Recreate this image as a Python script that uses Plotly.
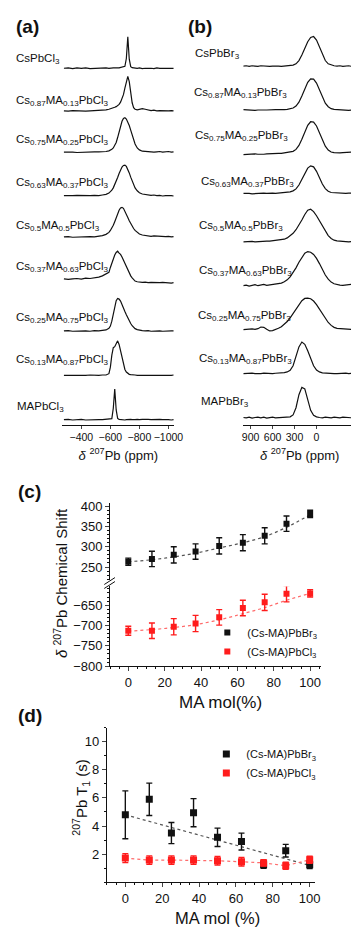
import plotly.graph_objects as go

# ─── (a) 207Pb spectra, Cs(1-x)MA(x)PbCl3 ─────────────────────────────────────
X_CL = [-280, -310, -340, -370, -400, -430, -460, -490, -520, -545,
        -570, -590, -600, -610, -620, -630, -640, -650, -660, -670,
        -680, -690, -700, -710, -720, -730, -740, -750, -760, -770,
        -785, -800, -820, -840, -860, -880, -900, -920, -940, -960,
        -980, -1000, -1020, -1035]

CL_CS = [0.00, 0.01, -0.01, 0.01, 0.00, 0.01, -0.01, 0.00, 0.01, 0.00,
         0.01, 0.00, 0.01, 0.00, 0.01, 0.01, 0.00, 0.01, 0.01, 0.02,
         0.02, 0.03, 0.06, 0.30, 0.97, 0.28, 0.05, 0.02, 0.01, 0.01,
         0.00, 0.01, -0.01, 0.00, 0.01, 0.00, -0.01, 0.01, 0.00, 0.00,
         0.01, 0.00, -0.01, 0.00]
CL_087 = [0.00, -0.01, 0.01, 0.00, 0.01, -0.01, 0.00, 0.01, 0.00, 0.02,
          0.03, 0.05, 0.06, 0.08, 0.09, 0.11, 0.13, 0.16, 0.20, 0.27,
          0.36, 0.50, 0.70, 0.92, 1.06, 0.90, 0.55, 0.25, 0.10, 0.05,
          0.03, 0.04, 0.07, 0.05, 0.02, 0.01, 0.02, 0.00, 0.01, 0.00,
          0.01, 0.00, 0.01, 0.00]
CL_075 = [0.00, 0.01, 0.00, -0.01, 0.00, 0.01, 0.00, 0.01, 0.01, 0.01,
          0.02, 0.04, 0.06, 0.09, 0.13, 0.20, 0.30, 0.45, 0.62, 0.80,
          0.95, 1.04, 1.06, 1.02, 0.94, 0.82, 0.68, 0.52, 0.38, 0.25,
          0.13, 0.07, 0.03, 0.02, 0.01, 0.02, 0.00, 0.01, 0.02, 0.00,
          0.01, 0.02, 0.00, 0.01]
CL_063 = [0.00, -0.01, 0.00, 0.01, 0.00, 0.01, 0.00, 0.01, 0.00, 0.02,
          0.04, 0.08, 0.12, 0.17, 0.24, 0.33, 0.44, 0.56, 0.68, 0.80,
          0.88, 0.93, 0.94, 0.90, 0.82, 0.70, 0.57, 0.44, 0.33, 0.24,
          0.15, 0.09, 0.05, 0.03, 0.02, 0.01, 0.02, 0.00, 0.01, -0.01,
          0.00, 0.01, 0.00, -0.01]
CL_050 = [0.00, 0.01, -0.01, 0.00, 0.01, 0.00, 0.01, 0.00, 0.02, 0.04,
          0.08, 0.14, 0.20, 0.27, 0.36, 0.47, 0.60, 0.72, 0.82, 0.89,
          0.91, 0.88, 0.80, 0.70, 0.60, 0.50, 0.41, 0.33, 0.26, 0.20,
          0.14, 0.09, 0.06, 0.04, 0.03, 0.02, 0.03, 0.02, 0.01, 0.02,
          0.01, 0.02, 0.00, 0.01]
CL_037 = [0.05, 0.03, 0.05, 0.06, 0.04, 0.07, 0.06, 0.08, 0.10, 0.14,
          0.20, 0.25, 0.40, 0.55, 0.67, 0.78, 0.86, 0.90, 0.84, 0.80,
          0.72, 0.62, 0.50, 0.40, 0.30, 0.22, 0.14, 0.08, 0.02, -0.02,
          -0.04, -0.05, -0.06, -0.05, -0.07, -0.06, -0.07, -0.08, -0.07, -0.06,
          -0.07, -0.06, -0.08, -0.07]
CL_025 = [0.00, 0.01, -0.01, 0.00, 0.01, 0.00, -0.01, 0.01, 0.00, 0.01,
          0.03, 0.08, 0.15, 0.30, 0.50, 0.75, 0.93, 1.00, 0.98, 0.92,
          0.83, 0.72, 0.60, 0.50, 0.40, 0.31, 0.23, 0.16, 0.11, 0.07,
          0.04, 0.02, 0.01, 0.00, 0.01, -0.01, 0.00, 0.01, 0.00, -0.01,
          0.00, 0.01, 0.00, 0.00]
CL_013 = [0.00, 0.01, 0.00, 0.00, -0.01, 0.00, 0.01, 0.00, 0.00, 0.01,
          0.01, 0.05, 0.25, 0.62, 0.85, 0.88, 1.00, 1.06, 0.95, 0.75,
          0.52, 0.32, 0.18, 0.10, 0.05, 0.03, 0.02, 0.01, 0.00, 0.01,
          0.00, 0.01, 0.00, 0.00, 0.01, 0.00, 0.00, 0.01, 0.00, 0.00,
          0.01, 0.00, 0.00, 0.01]
CL_MA = [0.00, 0.01, -0.01, 0.00, 0.01, -0.01, 0.00, 0.01, 0.00, 0.00,
         0.01, 0.00, 0.01, 0.03, 0.35, 0.94, 0.30, 0.04, 0.01, 0.00,
         0.01, 0.00, -0.01, 0.00, 0.01, 0.00, 0.01, 0.00, -0.01, 0.00,
         0.01, 0.00, 0.01, 0.02, 0.01, 0.00, 0.01, 0.02, 0.01, 0.00,
         0.01, 0.00, -0.01, 0.00]

CL_LABELS = ["CsPbCl<sub>3</sub>",
             "Cs<sub>0.87</sub>MA<sub>0.13</sub>PbCl<sub>3</sub>",
             "Cs<sub>0.75</sub>MA<sub>0.25</sub>PbCl<sub>3</sub>",
             "Cs<sub>0.63</sub>MA<sub>0.37</sub>PbCl<sub>3</sub>",
             "Cs<sub>0.5</sub>MA<sub>0.5</sub>PbCl<sub>3</sub>",
             "Cs<sub>0.37</sub>MA<sub>0.63</sub>PbCl<sub>3</sub>",
             "Cs<sub>0.25</sub>MA<sub>0.75</sub>PbCl<sub>3</sub>",
             "Cs<sub>0.13</sub>MA<sub>0.87</sub>PbCl<sub>3</sub>",
             "MAPbCl<sub>3</sub>"]

# ─── (b) 207Pb spectra, Cs(1-x)MA(x)PbBr3 ─────────────────────────────────────
X_BR = [1000, 960, 920, 880, 840, 800, 760, 720, 680, 640,
        600, 560, 520, 480, 440, 400, 360, 320, 280, 240,
        200, 160, 120, 80, 40, 0, -40, -80, -120, -160,
        -200, -240, -280, -320, -360, -400, -440, -480, -520]

BR_CS = [0.00, 0.01, -0.01, 0.01, 0.00, -0.01, 0.01, 0.00, 0.01, -0.01,
         0.00, 0.01, 0.00, -0.01, 0.00, 0.01, 0.01, 0.03, 0.07, 0.17,
         0.34, 0.55, 0.75, 0.88, 0.91, 0.80, 0.58, 0.35, 0.17, 0.07,
         0.03, 0.01, 0.00, 0.01, -0.01, 0.00, 0.01, -0.01, 0.00]
BR_087 = [0.01, 0.00, 0.01, 0.00, -0.01, 0.00, 0.01, 0.00, 0.00, 0.01,
          0.00, 0.01, 0.01, 0.00, 0.01, 0.02, 0.03, 0.06, 0.12, 0.24,
          0.43, 0.65, 0.85, 0.96, 0.95, 0.83, 0.62, 0.39, 0.21, 0.10,
          0.04, 0.02, 0.01, 0.00, 0.01, 0.00, -0.01, 0.00, 0.01]
BR_075 = [-0.02, -0.01, 0.00, 0.01, 0.00, -0.01, -0.02, -0.01, 0.00, 0.01,
          0.00, 0.01, 0.02, 0.02, 0.03, 0.04, 0.05, 0.08, 0.14, 0.26,
          0.45, 0.67, 0.88, 0.99, 0.98, 0.86, 0.65, 0.42, 0.24, 0.12,
          0.06, 0.04, 0.03, 0.03, 0.04, 0.05, 0.07, 0.06, 0.04]
BR_063 = [0.00, 0.01, 0.00, -0.01, 0.00, 0.01, 0.00, 0.01, 0.00, 0.01,
          0.01, 0.00, 0.01, 0.02, 0.02, 0.03, 0.05, 0.08, 0.14, 0.26,
          0.44, 0.63, 0.78, 0.85, 0.82, 0.68, 0.48, 0.29, 0.15, 0.07,
          0.03, 0.02, 0.01, 0.02, 0.01, 0.00, 0.01, 0.02, 0.01]
BR_050 = [0.00, 0.01, 0.02, 0.01, 0.00, 0.01, 0.02, 0.01, 0.02, 0.02,
          0.03, 0.03, 0.04, 0.06, 0.08, 0.12, 0.18, 0.26, 0.37, 0.51,
          0.67, 0.84, 0.97, 1.00, 0.93, 0.80, 0.64, 0.47, 0.31, 0.19,
          0.10, 0.05, 0.03, 0.02, 0.01, 0.02, 0.00, 0.01, -0.01]
BR_037 = [0.00, 0.02, -0.01, 0.01, 0.03, 0.00, 0.02, 0.04, 0.01, 0.02,
          0.03, 0.04, 0.06, 0.08, 0.12, 0.18, 0.27, 0.40, 0.55, 0.72,
          0.88, 1.00, 1.05, 1.03, 0.96, 0.84, 0.68, 0.50, 0.33, 0.20,
          0.11, 0.06, 0.03, 0.02, 0.01, 0.02, 0.01, 0.02, 0.05]
BR_025 = [0.00, 0.01, 0.00, 0.02, 0.01, 0.03, 0.08, 0.07, 0.01, -0.04,
          -0.03, 0.00, 0.04, 0.09, 0.16, 0.25, 0.36, 0.50, 0.64, 0.78,
          0.89, 0.96, 0.97, 0.95, 0.88, 0.77, 0.63, 0.48, 0.34, 0.22,
          0.13, 0.07, 0.04, 0.03, 0.02, 0.03, 0.02, 0.01, 0.00]
BR_013 = [0.00, 0.01, 0.00, 0.01, 0.00, -0.01, 0.00, 0.01, 0.00, 0.01,
          0.00, 0.01, 0.01, 0.02, 0.03, 0.05, 0.10, 0.24, 0.50, 0.82,
          0.97, 0.90, 0.70, 0.45, 0.24, 0.11, 0.05, 0.02, 0.01, 0.00,
          0.01, 0.00, 0.00, 0.01, 0.00, 0.01, 0.00, 0.00, 0.01]
BR_MA = [0.00, -0.01, 0.01, -0.02, 0.00, 0.01, -0.01, 0.01, -0.02, 0.00,
         0.01, -0.01, 0.00, 0.01, 0.00, 0.01, 0.02, 0.08, 0.30, 0.70,
         0.93, 0.88, 0.55, 0.22, 0.07, 0.02, 0.00, -0.01, 0.01, 0.00,
         -0.01, 0.01, 0.00, -0.01, 0.01, 0.00, 0.01, -0.01, 0.00]

BR_LABELS = [lab.replace("PbCl", "PbBr") for lab in CL_LABELS]

# ─── (c) chemical shift, (d) T1 ──────────────────────────────────────────────
MA_PCT = [0, 13, 25, 37, 50, 63, 75, 87, 100]

SHIFT_BR = [263, 270, 280, 288, 302, 310, 327, 357, 381]
SHIFT_BR_ERR = [9, 19, 20, 19, 20, 20, 20, 19, 9]
SHIFT_BR_FIT = [263, 268, 275, 284, 297, 310, 325, 348, 379]
SHIFT_CL = [-713, -713, -703, -695, -680, -657, -643, -622, -621]
SHIFT_CL_ERR = [11, 19, 20, 20, 19, 19, 20, 20, 9]
SHIFT_CL_FIT = [-714, -710, -705, -698, -686, -671, -656, -638, -621]

T1_BR = [4.8, 5.9, 3.5, 4.95, 3.2, 2.9, 1.25, 2.25, 1.25]
T1_BR_ERR = [1.7, 1.15, 0.75, 1.0, 0.65, 0.6, 0.25, 0.45, 0.27]
T1_FIT_X = [0, 100]
T1_BR_FIT = [4.8, 1.2]
T1_CL = [1.72, 1.58, 1.58, 1.58, 1.53, 1.46, 1.38, 1.18, 1.6]
T1_CL_ERR = [0.32, 0.3, 0.3, 0.3, 0.3, 0.3, 0.22, 0.25, 0.25]

# ─── 样式 ─────────────────────────────────────────────────────────────────────
W, H = 359, 928
FONT = "Liberation Sans, Arial, sans-serif"
BLACK = "#111111"
RED = "#ff1c1c"
OFFSET_A = [8.0, 7.03, 6.09, 5.1, 4.16, 3.17, 2.02, 1.01, 0.0]
OFFSET_B = [8.05, 7.05, 6.05, 5.15, 4.05, 3.05, 2.05, 1.05, 0.05]
HEIGHT = 0.74
LAB_A = [(5, 48), (5, 90), (5, 130), (5, 173), (5, 217), (5, 258), (5, 310), (5, 353), (6, 400)]
LAB_B = [(189, 43), (188, 82), (189, 126), (195, 172), (193, 217), (193, 262), (192, 308), (193, 352), (195, 395)]


def px(x):
    return x / W


def py(y):
    return 1 - y / H


fig = go.Figure()

cl_spectra = [CL_CS, CL_087, CL_075, CL_063, CL_050, CL_037, CL_025, CL_013, CL_MA]
br_spectra = [BR_CS, BR_087, BR_075, BR_063, BR_050, BR_037, BR_025, BR_013, BR_MA]

for k, ys in enumerate(cl_spectra):
    fig.add_trace(go.Scatter(x=X_CL, y=[OFFSET_A[k] + HEIGHT * v for v in ys],
                             xaxis="x", yaxis="y", mode="lines",
                             line=dict(color=BLACK, width=1.2),
                             showlegend=False, hoverinfo="skip"))
for k, ys in enumerate(br_spectra):
    fig.add_trace(go.Scatter(x=X_BR, y=[OFFSET_B[k] + HEIGHT * v for v in ys],
                             xaxis="x2", yaxis="y2", mode="lines",
                             line=dict(color=BLACK, width=1.2),
                             showlegend=False, hoverinfo="skip"))

# (c)
fig.add_trace(go.Scatter(x=MA_PCT, y=SHIFT_BR_FIT, xaxis="x3", yaxis="y4", mode="lines",
                         line=dict(color="#555555", width=1.2, dash="dot", shape="spline"),
                         showlegend=False, hoverinfo="skip"))
fig.add_trace(go.Scatter(x=MA_PCT, y=SHIFT_CL_FIT, xaxis="x3", yaxis="y3", mode="lines",
                         line=dict(color="#ff6b6b", width=1.2, dash="dot", shape="spline"),
                         showlegend=False, hoverinfo="skip"))
fig.add_trace(go.Scatter(x=MA_PCT, y=SHIFT_BR, xaxis="x3", yaxis="y4", mode="markers",
                         name="(Cs-MA)PbBr<sub>3</sub>", legend="legend",
                         marker=dict(symbol="square", size=6, color=BLACK),
                         error_y=dict(type="data", array=SHIFT_BR_ERR, color=BLACK,
                                      thickness=1.4, width=3)))
fig.add_trace(go.Scatter(x=MA_PCT, y=SHIFT_CL, xaxis="x3", yaxis="y3", mode="markers",
                         name="(Cs-MA)PbCl<sub>3</sub>", legend="legend",
                         marker=dict(symbol="square", size=6, color=RED),
                         error_y=dict(type="data", array=SHIFT_CL_ERR, color=RED,
                                      thickness=1.4, width=3)))

# (d)
fig.add_trace(go.Scatter(x=T1_FIT_X, y=T1_BR_FIT, xaxis="x4", yaxis="y5", mode="lines",
                         line=dict(color="#555555", width=1.2, dash="dot"),
                         showlegend=False, hoverinfo="skip"))
fig.add_trace(go.Scatter(x=MA_PCT, y=T1_CL, xaxis="x4", yaxis="y5", mode="lines",
                         line=dict(color="#ff6b6b", width=1.2, dash="dot"),
                         showlegend=False, hoverinfo="skip"))
fig.add_trace(go.Scatter(x=MA_PCT, y=T1_BR, xaxis="x4", yaxis="y5", mode="markers",
                         name="(Cs-MA)PbBr<sub>3</sub>", legend="legend2",
                         marker=dict(symbol="square", size=7, color=BLACK),
                         error_y=dict(type="data", array=T1_BR_ERR, color=BLACK,
                                      thickness=1.4, width=3)))
fig.add_trace(go.Scatter(x=MA_PCT, y=T1_CL, xaxis="x4", yaxis="y5", mode="markers",
                         name="(Cs-MA)PbCl<sub>3</sub>", legend="legend2",
                         marker=dict(symbol="square", size=7, color=RED),
                         error_y=dict(type="data", array=T1_CL_ERR, color=RED,
                                      thickness=1.4, width=3)))

# ─── 坐标轴 ───────────────────────────────────────────────────────────────────
spec_x = dict(ticks="outside", ticklen=3, showline=True, linecolor=BLACK, linewidth=1,
              showgrid=False, zeroline=False, tickangle=0, tickfont=dict(size=10.5))
plot_ax = dict(ticks="outside", ticklen=4, showline=True, linecolor=BLACK, linewidth=1,
               showgrid=False, zeroline=False, tickangle=0, tickfont=dict(size=13),
               minor=dict(ticks="outside", ticklen=2, tickcolor=BLACK))
ppm_title = "<i>δ</i> <sup>207</sup>Pb (ppm)"

fig.update_layout(
    width=W, height=H,
    margin=dict(l=0, r=0, t=0, b=0),
    paper_bgcolor="white", plot_bgcolor="white",
    font=dict(family=FONT, color=BLACK),
    xaxis=dict(domain=[px(55), px(170)], range=[-270, -1040], anchor="y",
               tickvals=[-400, -600, -800, -1000],
               title=dict(text=ppm_title, font=dict(size=13), standoff=8), **spec_x),
    yaxis=dict(domain=[py(418), py(15)], range=[-0.112, 8.944], visible=False),
    xaxis2=dict(domain=[px(241), px(357)], range=[1000, -540], anchor="y2",
                tickvals=[900, 600, 300, 0],
                title=dict(text=ppm_title, font=dict(size=13), standoff=8), **spec_x),
    yaxis2=dict(domain=[py(418), py(15)], range=[-0.112, 8.944], visible=False),
    xaxis3=dict(domain=[px(104), px(321)], range=[-10, 106], anchor="y3",
                tick0=0, dtick=20, **plot_ax),
    yaxis3=dict(domain=[py(662.7), py(582)], range=[-800, -604], anchor="x3",
                tick0=0, dtick=50, **plot_ax),
    yaxis4=dict(domain=[py(575), py(497)], range=[219, 409], anchor="x3",
                tick0=0, dtick=50, **plot_ax),
    xaxis4=dict(domain=[px(100.7), px(315)], range=[-10, 103], anchor="y5",
                tick0=0, dtick=20, **plot_ax),
    yaxis5=dict(domain=[py(881.7), py(725)], range=[0, 11], anchor="x4",
                tickvals=[2, 4, 6, 8, 10], **plot_ax),
    legend=dict(x=px(204), y=py(614), xanchor="left", yanchor="top",
                font=dict(size=11), bgcolor="rgba(0,0,0,0)", tracegroupgap=0),
    legend2=dict(x=px(203), y=py(737), xanchor="left", yanchor="top",
                 font=dict(size=11), bgcolor="rgba(0,0,0,0)", tracegroupgap=0),
)
fig.update_yaxes(minor=dict(ticks="outside", ticklen=2, dtick=1), selector=dict(anchor="x4"))

# 断轴标记
for y0 in (580, 584):
    fig.add_shape(type="line", xref="paper", yref="paper",
                  x0=px(98), y0=py(y0), x1=px(109), y1=py(y0 - 7),
                  line=dict(color=BLACK, width=1))

# ─── 文字 ─────────────────────────────────────────────────────────────────────
ann = []
for lab, (x, y) in zip(CL_LABELS, LAB_A):
    ann.append(dict(text=lab, x=px(x), y=py(y)))
for lab, (x, y) in zip(BR_LABELS, LAB_B):
    ann.append(dict(text=lab, x=px(x), y=py(y)))
for a in ann:
    a.update(xref="paper", yref="paper", xanchor="left", yanchor="middle",
             showarrow=False, font=dict(size=11.5))

for txt, x, y in [("(a)", 5, 15), ("(b)", 182, 15), ("(c)", 7, 486), ("(d)", 7, 713)]:
    ann.append(dict(text=f"<b>{txt}</b>", x=px(x), y=py(y), xref="paper", yref="paper",
                    xanchor="left", yanchor="middle", showarrow=False, font=dict(size=19)))

ann += [
    dict(text="MA mol(%)", x=px(218), y=py(700), font=dict(size=17)),
    dict(text="MA mol (%)", x=px(214), y=py(918), font=dict(size=16.5)),
    dict(text="<i>δ</i> <sup>207</sup>Pb Chemical Shift", x=px(53), y=py(579),
         textangle=-90, font=dict(size=15)),
    dict(text="<sup>207</sup>Pb T<sub>1</sub> (s)", x=px(74), y=py(796),
         textangle=-90, font=dict(size=15)),
]
for a in ann[-4:]:
    a.update(xref="paper", yref="paper", xanchor="center", yanchor="middle", showarrow=False)

fig.update_layout(annotations=ann)
fig.write_html("out.html")
